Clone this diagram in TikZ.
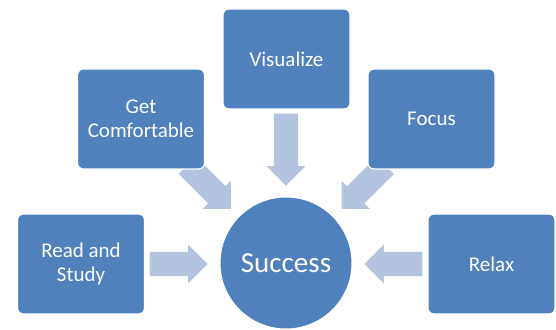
\documentclass[tikz,border=0pt]{standalone}
\usepackage{fontspec}
\setmainfont{Carlito}
\usetikzlibrary{shapes.arrows}
\definecolor{boxblue}{RGB}{79,129,189}
\definecolor{arrowblue}{RGB}{180,195,222}

\begin{document}
\begin{tikzpicture}
[x=1pt,y=1pt,every node/.style={text=white,font=\fontsize{21}{24}\selectfont},
box/.style={rectangle,rounded corners=6pt,fill=boxblue,draw=white,line width=1.2pt,minimum width=127pt,minimum height=100pt,align=center,inner sep=0pt},
blockarrow/.style={single arrow,fill=arrowblue,draw=none,inner xsep=0pt,inner ysep=12pt,single arrow head extend=7.5pt,single arrow tip angle=90,single arrow head indent=0pt,anchor=tip}]
\useasboundingbox (0,0) rectangle (556,329);
\foreach \name/\px/\py/\ang/\len in {arrvis/286/143/-90/72,arrget/231/120/-45/61.5,arrfoc/341.5/120/-135/61.5,arrread/208/65/0/58,arrrel/364/65/180/58}
\node[blockarrow,minimum height=\len pt,rotate=\ang] (\name) at (\px,\py) {};
\node[box] (vis) at (286.5,270) {Visualize};
\node[box] (get) at (141,210) {Get\\Comfortable};
\node[box] (foc) at (431.5,210) {Focus};
\node[box] (read) at (81,65) {Read and\\Study};
\node[box] (rel) at (491.5,65) {Relax};
\node[circle,fill=boxblue,draw=white,line width=1pt,minimum size=132pt,inner sep=0pt,font=\fontsize{29}{34}\selectfont] (succ) at (286,66) {Success};
\end{tikzpicture}
\end{document}
